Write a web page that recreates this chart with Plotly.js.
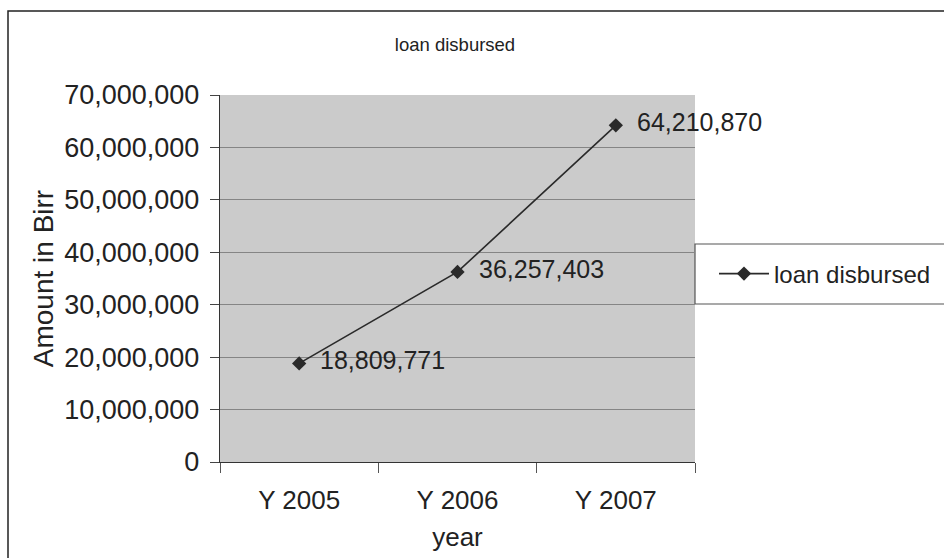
<!DOCTYPE html>
<html>
<head>
<meta charset="utf-8">
<script src="https://cdn.plot.ly/plotly-3.0.1.min.js"></script>
<style>html,body{margin:0;padding:0;background:#fff;}#chart{width:944px;height:558px;}</style>
</head>
<body>
<div id="chart"></div>
<script>
const years = ["Y 2005", "Y 2006", "Y 2007"];
const loanDisbursed = [18809771, 36257403, 64210870];
const seriesName = "loan disbursed";

const FONT = "Liberation Sans, Arial, sans-serif";
const L = 220, R = 695, T = 95, B = 462, W = 944, H = 558;
const px = x => (x - L) / (R - L);
const py = y => (B - y) / (B - T);

const trace = {
  x: years, y: loanDisbursed, name: seriesName,
  type: "scatter", mode: "lines+markers",
  line: {color: "#2a2a2a", width: 1.6},
  marker: {symbol: "diamond", size: 11, color: "#2a2a2a"},
  cliponaxis: false
};

const annotations = years.map((c, i) => ({
  x: c, y: loanDisbursed[i], xref: "x", yref: "y",
  text: loanDisbursed[i].toLocaleString("en-US"),
  showarrow: false, xanchor: "left", yanchor: "middle",
  xshift: 19, yshift: 3,
  font: {family: FONT, size: 25, color: "#222"}
}));

const layout = {
  width: W, height: H,
  margin: {l: L, r: W - R, t: T, b: H - B, pad: 0, autoexpand: false},
  paper_bgcolor: "#ffffff",
  plot_bgcolor: "#cbcbcb",
  font: {family: FONT, color: "#222"},
  title: {text: "loan disbursed", font: {family: FONT, size: 18.5, color: "#222"}, x: (455) / W, xanchor: "center", y: 1 - 45 / H, yanchor: "middle"},
  showlegend: true,
  legend: {
    x: px(714), xanchor: "left", y: py(274), yanchor: "middle",
    bgcolor: "rgba(0,0,0,0)", borderwidth: 0, itemwidth: 50,
    font: {family: FONT, size: 24, color: "#222"}
  },
  xaxis: {
    type: "category", range: [-0.5, 2.5],
    showline: true, linecolor: "#333", linewidth: 1.2,
    ticks: "outside", tickson: "boundaries", ticklen: 10, tickcolor: "#555",
    showgrid: false, zeroline: false,
    ticklabelstandoff: 15,
    tickfont: {family: FONT, size: 26, color: "#222"},
    title: {text: "year", font: {family: FONT, size: 26, color: "#222"}, standoff: 13}
  },
  yaxis: {
    range: [0, 70000000], dtick: 10000000, tick0: 0,
    tickformat: ",d",
    showline: true, linecolor: "#333", linewidth: 1.2,
    ticks: "outside", ticklen: 9, tickcolor: "#444",
    showgrid: true, gridcolor: "#858585", gridwidth: 1,
    zeroline: false,
    ticklabelstandoff: 5,
    tickfont: {family: FONT, size: 27, color: "#222"},
    title: {text: "Amount in Birr", font: {family: FONT, size: 28, color: "#222"}, standoff: 2}
  },
  shapes: [
    {type: "rect", xref: "paper", yref: "paper",
     x0: px(8), x1: px(970), y0: py(580), y1: py(11),
     line: {color: "#222", width: 1.5}, fillcolor: "rgba(0,0,0,0)", layer: "below"},
    {type: "rect", xref: "paper", yref: "paper",
     x0: px(695), x1: px(960), y0: py(304), y1: py(244),
     line: {color: "#555", width: 1.2}, fillcolor: "#ffffff", layer: "below"}
  ],
  annotations: annotations
};

Plotly.newPlot("chart", [trace], layout, {displayModeBar: false, staticPlot: true});
</script>
</body>
</html>
